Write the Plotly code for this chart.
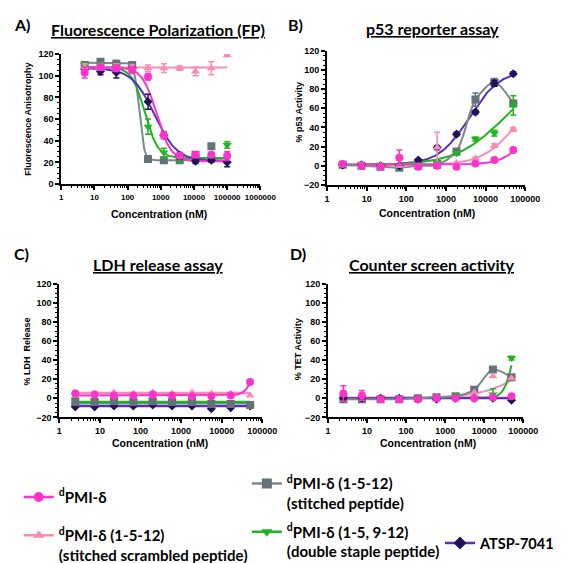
import numpy as np
import plotly.graph_objects as go

# ---------------- data ----------------
conc_A = [5.08, 15.2, 45.7, 137, 412, 1235, 3704, 11111, 33333, 100000]
conc_B = [2.47, 7.4, 22.2, 66.7, 200, 600, 1852, 5556, 16667, 50000]

tick_vals_A = [1, 10, 100, 1000, 10000, 100000, 1000000]
tick_text_A = ["1", "10", "100", "1000", "10000", "100000", "1000000"]
tick_vals_B = [1, 10, 100, 1000, 10000, 100000]
tick_text_B = ["1", "10", "100", "1000", "10000", "100000"]

# Panel A: Fluorescence Polarization
fp_mag = [103, 108, 107, 105, 99, 45, 26, 27, 27, 26]
fp_mag_err = [5, 3, 3, 3, 3, 3, 2, 2, 2, 4]
fp_pink = [108, 108, 108, 108, 107, 107, 107, 104, 107, 119]
fp_pink_err = [3, 3, 3, 2, 3, 4, 2, 4, 6, 0]
fp_gray = [110, 113, 111, 110, 23, 22, 22, 27, 35, None]
fp_gray_err = [2, 2, 3, 2, 1, 1, 1, 2, 1, 0]
fp_green = [110, 110, 109, 106, 53, 29, 24, 24, 24, 36]
fp_green_err = [2, 2, 2, 2, 7, 4, 4, 2, 2, 3]
fp_navy = [106, 104, 103, 107, 76, 45, 26, 21, 22, 20]
fp_navy_err = [2, 3, 5, 2, 7, 3, 3, 2, 2, 4]

# Panel B: p53 reporter assay
p53_mag = [2, 0, -1, 8.5, -1, 0, -1, 2.5, 6, 16.5]
p53_mag_err = [1, 1, 1, 8, 1, 1, 1, 1, 1, 1]
p53_pink = [1, 1, 0, 0, 0, 19, 3, 8, 21, 38]
p53_pink_err = [1, 1, 1, 1, 1, 16, 1, 1, 2, 2]
p53_gray = [1, 0, -1, -2, 0, 1, 15, 69, 87, 65]
p53_gray_err = [1, 1, 1, 1, 1, 1, 2, 7, 4, 3]
p53_green = [0, 0, 0, 0, 1, 4, 13, 28, 34, 63]
p53_green_err = [1, 1, 1, 1, 1, 1, 2, 2, 3, 10]
p53_navy = [1, 1, 0, 0, 6, 19, 33, 56, 86, 96]
p53_navy_err = [1, 1, 1, 1, 1, 2, 2, 2, 3, 2]

# Panel C: LDH release assay
ldh_mag = [5, 4, 3, 3, 4, 3, 2, 2, 3, 17]
ldh_pink = [6, 5, 6, 5, 6, 5, 6, 5, 5, 3]
ldh_gray = [-4, -4, -3, -4, -3, -4, -4, -6, -6, -7]
ldh_green = [-1, -3, -3, -3, -2, -3, -3, -5, -5, -6]
ldh_navy = [-9, -9, -8, -8, -7, -8, -8, -11, -10, -8]

# Panel D: Counter screen activity
tet_mag = [5, 3, -1, -1, -1, 0, 0, 0, 1, 2]
tet_mag_err = [8, 5, 1, 1, 1, 1, 1, 1, 1, 1]
tet_pink = [0, 0, -1, -1, 0, 1, 2, 6, 23, 21]
tet_gray = [-1, -1, -1, -1, 0, 1, 2, 9, 30, 22]
tet_green = [-1, 0, 0, 0, 0, 0, 3, 0, 4, 42]
tet_green_err = [1, 1, 1, 1, 1, 1, 1, 1, 6, 2]
tet_navy = [0, 0, 0, 0, -1, -1, 0, 0, 0, -2]

# fitted curve parameters (bottom, top, mid-point, hill slope)
fitA = {"mag": (21, 108, 750, 2.0), "pink": (107.5, 107.5, 1000, 1.0),
        "gray": (22, 112, 225, 6.0), "green": (24, 108, 330, 2.2),
        "navy": (21, 107, 645, 1.28)}
fitB = {"mag": (1, 100, 200000, 1.3), "pink": (0.5, 100, 80000, 0.95),
        "green": (0.5, 100, 30000, 0.7), "navy": (1, 100, 3900, 1.12)}
fitC = {"mag": (3, 43, 60000, 4.0), "pink": (5.5, 5.5, 1000, 1.0),
        "gray": (-5, -5, 1000, 1.0), "green": (-4, -4, 1000, 1.0),
        "navy": (-8, -8, 1000, 1.0)}
fitD = {"mag": (0.5, 0.5, 1000, 1.0), "pink": (0, 100, 400000, 0.7),
        "green": (0, 100, 60000, 3.5), "navy": (0, 0, 1000, 1.0)}

names = {
    "mag": "<sup>d</sup>PMI-δ",
    "pink": "<sup>d</sup>PMI-δ (1-5-12)<br>(stitched scrambled peptide)",
    "gray": "<sup>d</sup>PMI-δ (1-5-12)<br>(stitched peptide)",
    "green": "<sup>d</sup>PMI-δ (1-5, 9-12)<br>(double staple peptide)",
    "navy": "ATSP-7041",
}

# ---------------- styles ----------------
MC = {"mag": "#FF33CC", "pink": "#F78CB8", "gray": "#627277",
      "green": "#20B420", "navy": "#22125C"}
LC = {"mag": "#FF33CC", "pink": "#F78CB8", "gray": "#7A898E",
      "green": "#20B420", "navy": "#5A2DBE"}
SYM = {"mag": "circle", "pink": "triangle-up", "gray": "square",
       "green": "triangle-down", "navy": "diamond"}
MS = {"mag": 8, "pink": 8, "gray": 8, "green": 8, "navy": 7}

fig = go.Figure()

def down(x, p):
    b, t, m, h = p
    return b + (t - b) / (1 + (x / m) ** h)

def up(x, p):
    b, t, m, h = p
    return b + (t - b) / (1 + (m / x) ** h)

def add_fit(xs, p, key, ax, direction, lw=2):
    xg = np.geomspace(xs[0], xs[-1], 200)
    yg = down(xg, p) if direction == "down" else up(xg, p)
    fig.add_trace(go.Scatter(x=xg, y=yg, mode="lines", xaxis=ax[0], yaxis=ax[1],
                             line=dict(color=LC[key], width=lw), showlegend=False,
                             hoverinfo="skip"))

def add_spline(xs, ys, key, ax, lw=2):
    fig.add_trace(go.Scatter(x=xs, y=ys, mode="lines", xaxis=ax[0], yaxis=ax[1],
                             line=dict(color=LC[key], width=lw, shape="spline", smoothing=0.8),
                             showlegend=False, hoverinfo="skip"))

def add_pts(xs, ys, key, ax, err=None):
    e = None
    if err is not None:
        e = dict(type="data", array=err, color=MC[key], thickness=1.5, width=3)
    fig.add_trace(go.Scatter(x=xs, y=ys, mode="markers", xaxis=ax[0], yaxis=ax[1],
                             marker=dict(symbol=SYM[key], size=MS[key], color=MC[key]),
                             error_y=e, showlegend=False))

A = ("x", "y"); B = ("x2", "y2"); C = ("x3", "y3"); D = ("x4", "y4")

# Panel A
for k in ["gray", "green", "navy", "pink", "mag"]:
    add_fit(conc_A, fitA[k], k, A, "down")
add_pts(conc_A, fp_gray, "gray", A, fp_gray_err)
add_pts(conc_A, fp_green, "green", A, fp_green_err)
add_pts(conc_A, fp_navy, "navy", A, fp_navy_err)
add_pts(conc_A, fp_pink, "pink", A, fp_pink_err)
add_pts(conc_A, fp_mag, "mag", A, fp_mag_err)

# Panel B
for k in ["navy", "green", "pink", "mag"]:
    add_fit(conc_B, fitB[k], k, B, "up")
add_spline(conc_B, p53_gray, "gray", B)
add_pts(conc_B, p53_gray, "gray", B, p53_gray_err)
add_pts(conc_B, p53_green, "green", B, p53_green_err)
add_pts(conc_B, p53_navy, "navy", B, p53_navy_err)
add_pts(conc_B, p53_pink, "pink", B, p53_pink_err)
add_pts(conc_B, p53_mag, "mag", B, p53_mag_err)

# Panel C
for k in ["gray", "green", "navy", "pink"]:
    add_fit(conc_B, fitC[k], k, C, "up", lw=2.5)
add_fit(conc_B, fitC["mag"], "mag", C, "up", lw=2)
add_pts(conc_B, ldh_pink, "pink", C)
add_pts(conc_B, ldh_navy, "navy", C)
add_pts(conc_B, ldh_green, "green", C)
add_pts(conc_B, ldh_gray, "gray", C)
add_pts(conc_B, ldh_mag, "mag", C)

# Panel D
for k in ["pink", "green", "mag", "navy"]:
    add_fit(conc_B, fitD[k], k, D, "up")
add_spline(conc_B, tet_gray, "gray", D)
add_pts(conc_B, tet_gray, "gray", D)
add_pts(conc_B, tet_pink, "pink", D)
add_pts(conc_B, tet_green, "green", D, tet_green_err)
add_pts(conc_B, tet_navy, "navy", D)
add_pts(conc_B, tet_mag, "mag", D, tet_mag_err)

# Legend entries
legend_ids = {"mag": "legend", "pink": "legend2", "gray": "legend3",
              "green": "legend4", "navy": "legend5"}
for k in ["mag", "pink", "gray", "green", "navy"]:
    fig.add_trace(go.Scatter(x=[None], y=[None], mode="lines+markers", name=names[k],
                             xaxis="x", yaxis="y", legend=legend_ids[k],
                             line=dict(color=LC[k], width=2.5),
                             marker=dict(symbol=SYM[k], size=10, color=MC[k])))

W, H = 568, 563
def px(x): return x / W
def py(y): return 1 - y / H

tickfont = dict(family="Liberation Sans", size=9, color="black", weight="bold")
def xax(dom, rng, vals, text, fsize=9):
    return dict(domain=dom, type="log", range=rng, tickvals=vals, ticktext=text,
                showline=True, linecolor="black", linewidth=2, ticks="outside",
                ticklen=4, tickwidth=1.5, tickcolor="black", showgrid=False,
                zeroline=False, tickfont=dict(tickfont, size=fsize),
                minor=dict(ticks="outside", ticklen=2, tickwidth=1, tickcolor="black",
                           dtick="D1", showgrid=False))
def yax(dom, rng, anchor):
    return dict(domain=dom, range=rng, dtick=20, tick0=0, showline=True, linecolor="black",
                linewidth=2, ticks="outside", ticklen=4, tickwidth=1.5, tickcolor="black",
                showgrid=False, zeroline=False, tickfont=tickfont, anchor=anchor,
                minor=dict(ticks="outside", ticklen=2, tickwidth=1, tickcolor="black",
                           dtick=5, showgrid=False))

legfont = dict(family="Lato", size=15, color="black", weight="bold")
def leg(x, y, size=15, xanchor="left"):
    return dict(x=px(x), y=py(y), xanchor=xanchor, yanchor="top",
                font=dict(legfont, size=size),
                bgcolor="rgba(0,0,0,0)", borderwidth=0, valign="top",
                tracegroupgap=0, itemclick=False)

fig.update_layout(
    width=W, height=H, margin=dict(l=0, r=0, t=0, b=0),
    paper_bgcolor="white", plot_bgcolor="white", showlegend=True,
    xaxis=dict(xax([px(52), px(258)], [0, 6], tick_vals_A, tick_text_A, 8), anchor="y"),
    yaxis=yax([py(177), py(42.5)], [0, 120], "x"),
    xaxis2=dict(xax([px(327), px(532)], [0, 5], tick_vals_B, tick_text_B), anchor="y2"),
    yaxis2=yax([py(178), py(39)], [-20, 120], "x2"),
    xaxis3=dict(xax([px(50), px(260)], [0, 5], tick_vals_B, tick_text_B), anchor="y3"),
    yaxis3=yax([py(418.5), py(280)], [-20, 120], "x3"),
    xaxis4=dict(xax([px(328), px(530)], [0, 5], tick_vals_B, tick_text_B), anchor="y4"),
    yaxis4=yax([py(418.5), py(280)], [-20, 120], "x4"),
    legend=leg(8, 484),
    legend2=leg(8, 524),
    legend3=leg(244, 470),
    legend4=leg(244, 520),
    legend5=leg(568, 532, 14.5, "right"),
)

ann = []
def text(x, y, s, size, family="Lato", angle=0, xanchor="center"):
    ann.append(dict(x=px(x), y=py(y), xref="paper", yref="paper", text=s, showarrow=False,
                    xanchor=xanchor, yanchor="middle", textangle=angle,
                    font=dict(family=family, size=size, color="black", weight="bold")))

text(1, 12, "A)", 16, xanchor="left")
text(285, 12, "B)", 16, xanchor="left")
text(1, 249, "C)", 16, xanchor="left")
text(287, 249, "D)", 16, xanchor="left")
text(152, 17, "<u>Fluorescence Polarization (FP)</u>", 16)
text(436, 16, "<u>p53 reporter assay</u>", 16)
text(152, 260, "<u>LDH release assay</u>", 16)
text(436, 260, "<u>Counter screen activity</u>", 16)
text(153, 208, "Concentration (nM)", 10.5, family="Liberation Sans")
text(430, 207, "Concentration (nM)", 10.5, family="Liberation Sans")
text(154, 445, "Concentration (nM)", 10.5, family="Liberation Sans")
text(431, 445, "Concentration (nM)", 10.5, family="Liberation Sans")
text(18, 110, "Fluorescence Anisotrophy", 9, family="Liberation Sans", angle=-90)
text(297, 103, "% p53 Activity", 9, family="Liberation Sans", angle=-90)
text(17, 350, "% LDH  Release", 9, family="Liberation Sans", angle=-90)
text(297, 348, "% TET Activity", 9, family="Liberation Sans", angle=-90)
fig.update_layout(annotations=ann)

fig.write_html("out.html")
